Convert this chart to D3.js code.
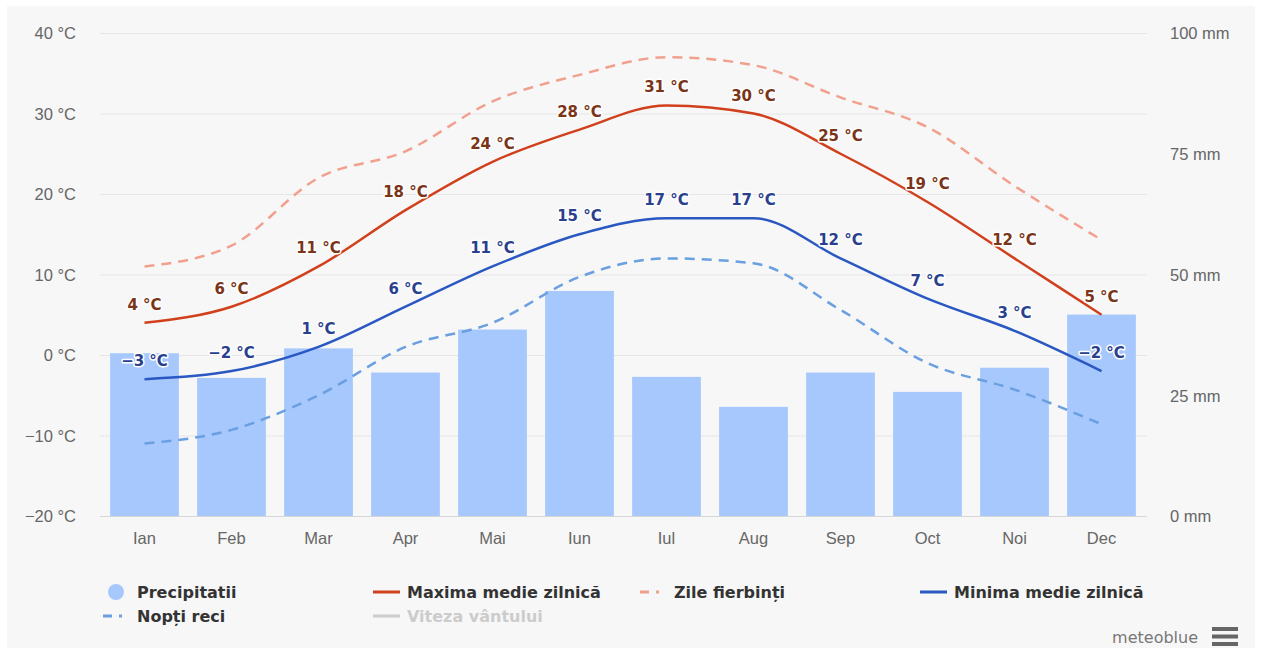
<!DOCTYPE html>
<html>
<head>
<meta charset="utf-8">
<script src="https://cdn.jsdelivr.net/npm/d3@7"></script>
<style>
  body { margin: 0; background: #ffffff; }
  svg { display: block; font-family: "DejaVu Sans", sans-serif; }
  .axis text { fill: #666666; font-size: 16.5px; }
  .lbl { font-size: 15px; font-weight: bold; paint-order: stroke; stroke: #ffffff; stroke-width: 3px; stroke-linejoin: round; }
  .legend text { font-size: 16px; font-weight: bold; fill: #333333; }
</style>
</head>
<body>
<div id="chart"></div>
<script>
var months = ["Ian", "Feb", "Mar", "Apr", "Mai", "Iun", "Iul", "Aug", "Sep", "Oct", "Noi", "Dec"];
var precipitation = [33.7, 28.6, 34.7, 29.7, 38.6, 46.6, 28.8, 22.6, 29.7, 25.7, 30.7, 41.7];
var maxDaily = [4, 6, 11, 18, 24, 28, 31, 30, 25, 19, 12, 5];
var minDaily = [-3, -2, 1, 6, 11, 15, 17, 17, 12, 7, 3, -2];
var hotDays = [11, 13.6, 22, 25.3, 31.5, 34.8, 37, 36, 32, 28.3, 21, 14.3];
var coldNights = [-11, -9.3, -5, 1, 4, 9.7, 12, 11.4, 5.6, -1, -4.3, -8.6];
var tempTicks = [-20, -10, 0, 10, 20, 30, 40];
var rainTicks = [0, 25, 50, 75, 100];

var width = 1262, height = 650;
var plotLeft = 101, plotRight = 1145, plotTop = 33, plotBottom = 516;

var svg = d3.select("#chart").append("svg")
    .attr("width", width)
    .attr("height", height);

svg.append("rect")
    .attr("x", 7).attr("y", 6)
    .attr("width", 1248).attr("height", 642)
    .attr("fill", "#f7f7f7");

var x = d3.scaleBand().domain(months).range([plotLeft, plotRight]).paddingInner(0.21).paddingOuter(0.105);
var xc = function(m) { return x(m) + x.bandwidth() / 2; };
var yT = d3.scaleLinear().domain([-20, 40]).range([plotBottom, plotTop]);
var yR = d3.scaleLinear().domain([0, 100]).range([plotBottom, plotTop]);

// grid
svg.append("g").selectAll("line")
    .data(tempTicks)
    .enter().append("line")
    .attr("x1", plotLeft - 1).attr("x2", plotRight + 2)
    .attr("y1", function(d) { return yT(d) + 0.5; })
    .attr("y2", function(d) { return yT(d) + 0.5; })
    .attr("stroke", function(d) { return d === -20 ? "#d6d6d6" : "#e6e6e6"; })
    .attr("stroke-width", 1);

// axes
var leftAxis = svg.append("g").attr("class", "axis")
    .attr("transform", "translate(" + (plotLeft - 22) + ",0)")
    .call(d3.axisLeft(yT).tickValues(tempTicks).tickSize(0).tickFormat(function(d) { return d + " °C"; }));
leftAxis.select(".domain").remove();
leftAxis.selectAll("text").attr("dy", "0.35em").text(function(d) { return (d < 0 ? "\u2212" + (-d) : d) + " °C"; });

var rightAxis = svg.append("g").attr("class", "axis")
    .attr("transform", "translate(" + (plotRight + 25) + ",0)")
    .call(d3.axisRight(yR).tickValues(rainTicks).tickSize(0).tickPadding(0).tickFormat(function(d) { return d + " mm"; }));
rightAxis.select(".domain").remove();
rightAxis.selectAll("text").attr("dy", "0.35em");

var bottomAxis = svg.append("g").attr("class", "axis")
    .attr("transform", "translate(0," + plotBottom + ")")
    .call(d3.axisBottom(x).tickSize(0).tickPadding(16));
bottomAxis.select(".domain").remove();

// bars
svg.append("g").selectAll("rect")
    .data(precipitation)
    .enter().append("rect")
    .attr("x", function(d, i) { return x(months[i]); })
    .attr("y", function(d) { return yR(d); })
    .attr("width", x.bandwidth())
    .attr("height", function(d) { return plotBottom - yR(d); })
    .attr("fill", "#a6c8fd");

var line = function(ys) {
    return d3.line()
        .x(function(d, i) { return xc(months[i]); })
        .y(function(d) { return ys(d); })
        .curve(d3.curveMonotoneX);
};

var series = [
    { values: coldNights, color: "#6a9fe0", dash: "10,7" },
    { values: hotDays, color: "#f2a08e", dash: "10,7" },
    { values: minDaily, color: "#2a58c2", dash: null },
    { values: maxDaily, color: "#d1401c", dash: null }
];

series.forEach(function(s) {
    svg.append("path")
        .datum(s.values)
        .attr("d", line(yT))
        .attr("fill", "none")
        .attr("stroke", s.color)
        .attr("stroke-width", 2.5)
        .attr("stroke-dasharray", s.dash);
});

// data labels
var drawLabels = function(values, color) {
    svg.append("g").selectAll("text")
        .data(values)
        .enter().append("text")
        .attr("class", "lbl")
        .attr("x", function(d, i) { return xc(months[i]); })
        .attr("y", function(d) { return yT(d) - 13; })
        .attr("text-anchor", "middle")
        .attr("fill", color)
        .text(function(d) { return (d < 0 ? "\u2212" + (-d) : d) + " °C"; });
};
drawLabels(maxDaily, "#7a3417");
drawLabels(minDaily, "#2a3f8e");

// legend
var legendItems = [
    { name: "Precipitatii", type: "circle", color: "#a6c8fd", x: 108, y: 592 },
    { name: "Maxima medie zilnică", type: "line", color: "#d1401c", x: 373, y: 592 },
    { name: "Zile fierbinți", type: "dash", color: "#f2a08e", x: 640, y: 592 },
    { name: "Minima medie zilnică", type: "line", color: "#2a58c2", x: 920, y: 592 },
    { name: "Nopți reci", type: "dash", color: "#6a9fe0", x: 103, y: 616 },
    { name: "Viteza vântului", type: "line", color: "#cccccc", x: 373, y: 616, hidden: true }
];

var legend = svg.append("g").attr("class", "legend");
legendItems.forEach(function(it) {
    var g = legend.append("g");
    var textX;
    if (it.type === "circle") {
        g.append("circle").attr("cx", it.x + 8).attr("cy", it.y).attr("r", 8).attr("fill", it.color);
        textX = it.x + 29;
    } else {
        g.append("line")
            .attr("x1", it.x).attr("x2", it.x + 27)
            .attr("y1", it.y).attr("y2", it.y)
            .attr("stroke", it.color).attr("stroke-width", 3)
            .attr("stroke-dasharray", it.type === "dash" ? "9,7,3,20" : null);
        textX = it.x + 34;
    }
    g.append("text")
        .attr("x", textX).attr("y", it.y)
        .attr("dy", "0.35em")
        .style("fill", it.hidden ? "#cccccc" : "#333333")
        .text(it.name);
});

// credit + menu
svg.append("text")
    .attr("x", 1198).attr("y", 637)
    .attr("dy", "0.35em")
    .attr("text-anchor", "end")
    .attr("fill", "#777777")
    .style("font-size", "16px")
    .text("meteoblue");

svg.append("g").selectAll("rect")
    .data([0, 1, 2])
    .enter().append("rect")
    .attr("x", 1212).attr("width", 26).attr("height", 4)
    .attr("y", function(d) { return 627 + d * 7.5; })
    .attr("fill", "#666666");
</script>
</body>
</html>
